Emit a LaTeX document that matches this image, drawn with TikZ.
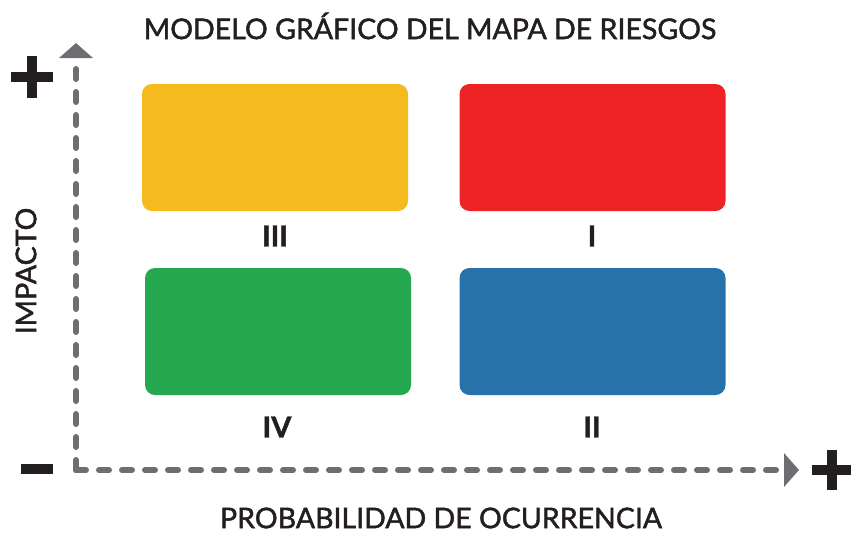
\documentclass[tikz,border=0pt]{standalone}
\usepackage{fontspec}
\setmainfont{Lato}
\newfontfamily\capfont{Lato}[FakeBold=1.6]
\newfontfamily\numfont{Lato Bold}[FakeBold=1.5]
\usetikzlibrary{arrows.meta}
\definecolor{ink}{HTML}{231F20}
\definecolor{axisgray}{HTML}{6D6E71}
\definecolor{qyellow}{HTML}{F5BA1E}
\definecolor{qred}{HTML}{EE2326}
\definecolor{qgreen}{HTML}{25A84F}
\definecolor{qblue}{HTML}{2872AC}
\begin{document}
\begin{tikzpicture}[x=1pt, y=-1pt,
  axis/.style={draw=axisgray, line width=6pt, line cap=round, dash pattern=on 10pt off 13pt,
    -{Triangle[length=15pt, width=33pt, fill=axisgray]}},
  quad/.style={fill=#1, rounded corners=10pt, minimum width=266pt, minimum height=127pt, inner sep=0pt},
  roman/.style={text=ink, font=\fontsize{29}{29}\selectfont\numfont, inner sep=0pt},
  caption/.style={text=ink, font=\fontsize{28.5}{28.5}\selectfont\capfont, inner sep=0pt},
  plussign/.style={minimum size=#1, inner sep=0pt, path picture={
    \fill[ink] ([yshift=-5pt]path picture bounding box.west) rectangle ([yshift=5pt]path picture bounding box.east);
    \fill[ink] ([xshift=-5pt]path picture bounding box.south) rectangle ([xshift=5pt]path picture bounding box.north);}}]
\useasboundingbox (0,0) rectangle (851,533);
\node[caption] (title) at (430,26) {MODELO GRÁFICO DEL MAPA DE RIESGOS};
\node[caption] (xlabel) at (441,518) {PROBABILIDAD DE OCURRENCIA};
\node[caption, rotate=90] (ylabel) at (26,271) {IMPACTO};
\coordinate (o) at (76,470);
\coordinate (ytop) at (76,43);
\coordinate (xend) at (799,470);
\draw[axis] (o) -- (ytop);
\draw[axis] (o) -- (xend);
\node[plussign=42pt] (yplus) at (32,77) {};
\node[plussign=40pt] (xplus) at (832,470) {};
\node[fill=ink, minimum width=32pt, minimum height=10pt, inner sep=0pt] (minus) at (37,469) {};
\node[quad=qyellow] (q3) at (275,147.5) {};
\node[quad=qred] (q1) at (592.5,147.5) {};
\node[quad=qgreen] (q4) at (278,331.5) {};
\node[quad=qblue] (q2) at (592.5,331.5) {};
\node[roman] (l3) at (275,236) {III};
\node[roman] (l1) at (592,236) {I};
\node[roman] (l4) at (277,427) {IV};
\node[roman] (l2) at (592,427) {II};
\end{tikzpicture}
\end{document}
